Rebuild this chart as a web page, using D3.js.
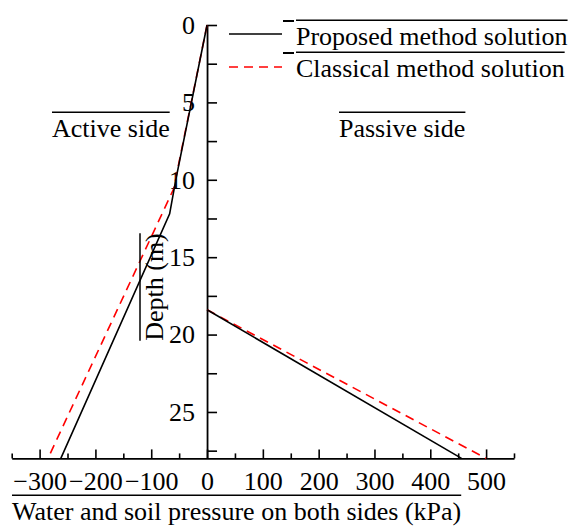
<!DOCTYPE html>
<html>
<head>
<meta charset="utf-8">
<script src="https://cdn.jsdelivr.net/npm/d3@7"></script>
<style>
  body { margin: 0; background: #fff; }
  svg text { font-family: "Liberation Serif", "Times New Roman", serif; fill: #000; }
</style>
</head>
<body>
<div id="chart"></div>
<script>
// depth (m) and pressure (kPa)
const proposedActiveDepth = [0, 10, 12.2, 28];
const proposedActiveValue = [0, -56, -67, -262];
const classicalActiveDepth = [0, 10.6, 28];
const classicalActiveValue = [0, -60, -285];
const proposedPassiveDepth = [18.4, 28];
const proposedPassiveValue = [0, 456];
const classicalPassiveDepth = [18.4, 28];
const classicalPassiveValue = [0, 500];

const xTicks = [-300, -200, -100, 0, 100, 200, 300, 400, 500];
const xMinor = [-350, -250, -150, -50, 50, 150, 250, 350, 450, 550];
const yTicks = [0, 5, 10, 15, 20, 25];
const yMinor = [2.5, 7.5, 12.5, 17.5, 22.5, 27.5];

const width = 572, height = 527;

const svg = d3.select("#chart").append("svg")
    .attr("width", width)
    .attr("height", height);

const x = d3.scaleLinear().domain([-350, 550]).range([11.7, 514]);
const y = d3.scaleLinear().domain([0, 28]).range([25, 458.4]);

// x axis
const xAxis = svg.append("g")
    .attr("transform", `translate(0,${y(28)})`)
    .call(d3.axisBottom(x).tickValues(xTicks).tickSizeInner(-9).tickSizeOuter(0).tickPadding(13));
xAxis.select(".domain").attr("stroke-width", 1.8);
xAxis.selectAll(".tick line").attr("stroke-width", 1.6);
xAxis.selectAll("text").attr("font-size", 26).attr("font-family", null);

const xMinorAxis = svg.append("g")
    .attr("transform", `translate(0,${y(28)})`)
    .call(d3.axisBottom(x).tickValues(xMinor).tickSize(-5).tickFormat(""));
xMinorAxis.select(".domain").remove();
xMinorAxis.selectAll(".tick line").attr("stroke-width", 1.6);

// y axis at x = 0
const yAxis = svg.append("g")
    .attr("transform", `translate(${x(0)},0)`)
    .call(d3.axisLeft(y).tickValues(yTicks).tickSizeInner(-10).tickSizeOuter(0).tickPadding(12));
yAxis.select(".domain").attr("stroke-width", 1.8);
yAxis.selectAll(".tick line").attr("stroke-width", 1.6);
yAxis.selectAll("text").attr("font-size", 26).attr("font-family", null);

const yMinorAxis = svg.append("g")
    .attr("transform", `translate(${x(0)},0)`)
    .call(d3.axisLeft(y).tickValues(yMinor).tickSize(-10).tickFormat(""));
yMinorAxis.select(".domain").remove();
yMinorAxis.selectAll(".tick line").attr("stroke-width", 1.6);

// series
const line = d3.line()
    .x(d => x(d[1]))
    .y(d => y(d[0]));

const series = [
    { depth: classicalActiveDepth, value: classicalActiveValue, color: "#ff0000", dash: "9,6" },
    { depth: classicalPassiveDepth, value: classicalPassiveValue, color: "#ff0000", dash: "9,6" },
    { depth: proposedActiveDepth, value: proposedActiveValue, color: "#000", dash: null },
    { depth: proposedPassiveDepth, value: proposedPassiveValue, color: "#000", dash: null }
];

svg.selectAll(".series")
    .data(series)
    .enter()
    .append("path")
    .attr("class", "series")
    .attr("d", s => line(d3.zip(s.depth, s.value)))
    .attr("fill", "none")
    .attr("stroke", s => s.color)
    .attr("stroke-width", 1.6)
    .attr("stroke-dasharray", s => s.dash);

// text with the overline rules seen in the picture
function overlined(txt, tx, ty, size) {
    const t = svg.append("text")
        .attr("x", tx)
        .attr("y", ty)
        .attr("font-size", size)
        .text(txt);
    const w = t.node().getComputedTextLength();
    svg.append("line")
        .attr("x1", tx).attr("x2", tx + w)
        .attr("y1", ty - size * 0.95).attr("y2", ty - size * 0.95)
        .attr("stroke", "#000").attr("stroke-width", 1.5);
    return t;
}

overlined("Active side", 52, 137, 26);
overlined("Passive side", 339, 137, 26);
overlined("Water and soil pressure on both sides (kPa)", 12, 520, 26);

// rotated y label
const yl = svg.append("g").attr("transform", "translate(163,287) rotate(-90)");
const ylt = yl.append("text")
    .attr("text-anchor", "middle")
    .attr("font-size", 26)
    .text("Depth (m)");
const ylw = ylt.node().getComputedTextLength();
yl.append("line")
    .attr("x1", -ylw / 2).attr("x2", ylw / 2)
    .attr("y1", -23).attr("y2", -23)
    .attr("stroke", "#000").attr("stroke-width", 1.5);

// legend
const legend = [
    { label: "Proposed method solution", color: "#000", dash: null, ly: 34, ty: 45 },
    { label: "Classical method solution", color: "#ff0000", dash: "9,6", ly: 67, ty: 77 }
];
legend.forEach(l => {
    svg.append("line")
        .attr("x1", 229).attr("x2", 282)
        .attr("y1", l.ly).attr("y2", l.ly)
        .attr("stroke", l.color)
        .attr("stroke-width", 1.6)
        .attr("stroke-dasharray", l.dash);
    overlined(l.label, 296, l.ty, 26);
    svg.append("line")
        .attr("x1", 283).attr("x2", 294)
        .attr("y1", l.ty - 24).attr("y2", l.ty - 24)
        .attr("stroke", "#000").attr("stroke-width", 2);
});
</script>
</body>
</html>
